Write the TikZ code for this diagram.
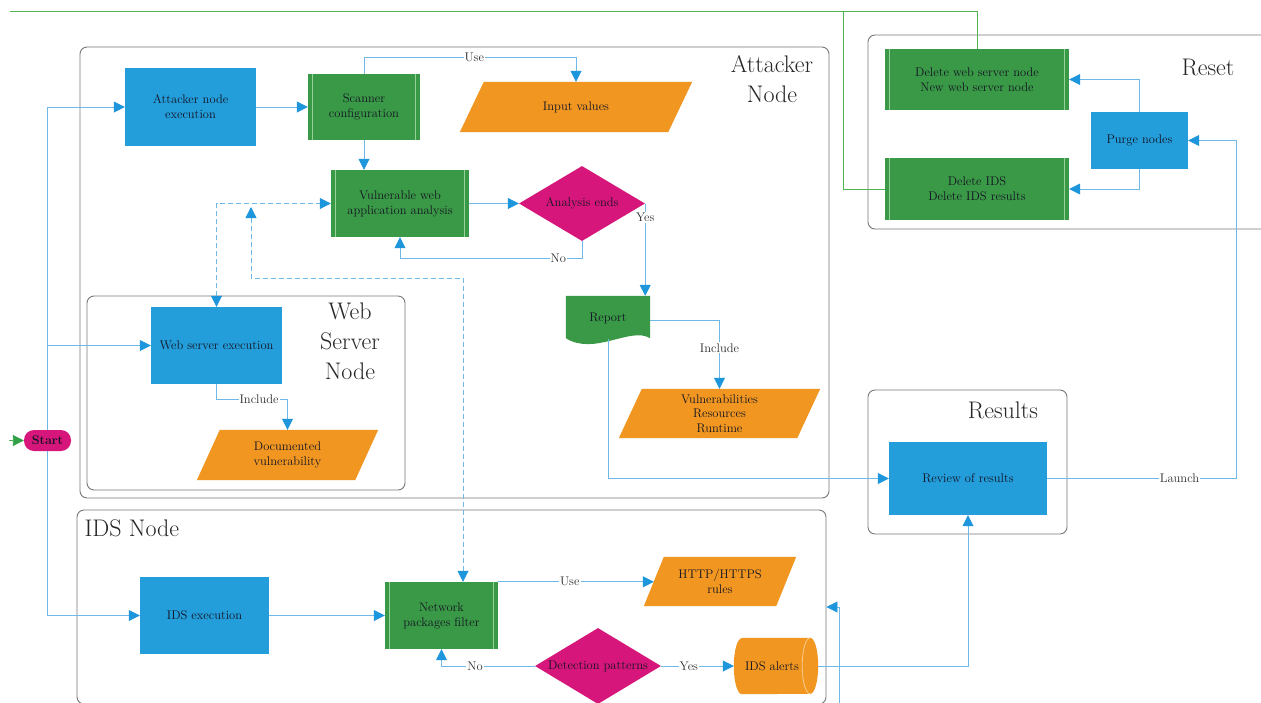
\documentclass[tikz,border=0pt]{standalone}
\usetikzlibrary{arrows.meta,shapes.geometric,calc,backgrounds}
\definecolor{boxblue}{RGB}{35,158,219}
\definecolor{boxgreen}{RGB}{58,153,70}
\definecolor{barg}{RGB}{150,210,150}
\definecolor{boxorange}{RGB}{241,151,33}
\definecolor{cylline}{RGB}{250,205,140}
\definecolor{boxmag}{RGB}{214,22,122}
\definecolor{lineblue}{RGB}{110,185,232}
\definecolor{arrowblue}{RGB}{30,150,220}
\definecolor{glinec}{RGB}{80,180,80}
\definecolor{arrowgreen}{RGB}{50,160,70}
\definecolor{framegray}{RGB}{120,120,120}
\definecolor{textdark}{RGB}{20,20,35}
\definecolor{labeltext}{RGB}{45,45,45}
\begin{document}
\begin{tikzpicture}[x=1pt,y=-1pt,
  conn/.style={draw=lineblue, line width=0.8pt},
  arr/.style={-{Triangle[length=11pt,width=11pt,color=arrowblue]}},
  bothend/.style={{Triangle[length=11pt,width=11pt,color=arrowblue]}-{Triangle[length=11pt,width=11pt,color=arrowblue]}},
  dashline/.style={dash pattern=on 5pt off 3pt},
  gline/.style={draw=glinec, line width=0.9pt},
  gbar/.style={draw=barg, line width=0.8pt},
  smallfont/.style={font=\fontsize{12.5}{15}\selectfont},
  bluebox/.style={rectangle, fill=boxblue, inner sep=2pt, align=center, text=textdark, smallfont},
  greenbox/.style={rectangle, fill=boxgreen, inner sep=2pt, align=center, text=textdark, smallfont},
  shapebox/.style={rectangle, inner sep=0pt, align=center, text=textdark, smallfont},
  decision/.style={diamond, fill=boxmag, inner sep=0pt, aspect=1.68, align=center, text=textdark, smallfont},
  container/.style={rectangle, draw=framegray, line width=0.9pt, rounded corners=7pt, inner sep=0pt},
  titletext/.style={font=\fontsize{24}{30}\selectfont, align=center, text=black!85},
  lbl/.style={fill=white, inner sep=1pt, text=labeltext, font=\fontsize{12.5}{14}\selectfont},
  startpill/.style={rectangle, rounded corners=10pt, fill=boxmag, minimum width=47pt, minimum height=21pt, inner sep=0pt, text=textdark, font=\fontsize{12.5}{14}\selectfont\bfseries}
]
\useasboundingbox (0,0) rectangle (1261,702);
\clip (0,0) rectangle (1261,702);

% containers
\node[container, minimum width=749pt, minimum height=451pt] (attc) at (454.5,272.5) {};
\node[container, minimum width=318pt, minimum height=194pt] (wsc) at (246,393) {};
\node[container, minimum width=749pt, minimum height=194pt] (idsc) at (451.5,607) {};
\node[container, minimum width=407pt, minimum height=194pt] (resetc) at (1071.5,132) {};
\node[container, minimum width=199pt, minimum height=144pt] (resc) at (967.5,462) {};

% titles
\node[titletext] (atttitle) at (772,79) {Attacker\\Node};
\node[titletext] (wstitle) at (350,341) {Web\\Server\\Node};
\node[titletext, anchor=west] (idstitle) at (81,528) {IDS Node};
\node[titletext] (resettitle) at (1208,67) {Reset};
\node[titletext] (restitle) at (1003,410) {Results};

% blue boxes
\node[bluebox, minimum width=131pt, minimum height=78pt] (exec) at (190.5,107) {Attacker node\\execution};
\node[bluebox, minimum width=131pt, minimum height=77pt] (wsexec) at (216.5,345.5) {Web server execution};
\node[bluebox, minimum width=129pt, minimum height=77pt] (idsexec) at (204.5,615.5) {IDS execution};
\node[bluebox, minimum width=97pt, minimum height=57pt] (purge) at (1139.5,140.5) {Purge nodes};
\node[bluebox, minimum width=158pt, minimum height=73pt] (review) at (968,478.5) {Review of results};

% green boxes
\node[greenbox, minimum width=112pt, minimum height=66pt] (scanner) at (364,107) {Scanner\\configuration};
\node[greenbox, minimum width=138pt, minimum height=67pt] (vuln) at (400,203.5) {Vulnerable web\\application analysis};
\node[greenbox, minimum width=113pt, minimum height=67pt] (netfilter) at (441.5,615.5) {Network\\packages filter};
\node[greenbox, minimum width=184pt, minimum height=61pt] (delws) at (977,79.5) {Delete web server node\\New web server node};
\node[greenbox, minimum width=184pt, minimum height=62pt] (delids) at (977,189) {Delete IDS\\Delete IDS results};
\foreach \n in {scanner,vuln,netfilter,delws,delids}{
  \draw[gbar] ([xshift=5pt]\n.north west) -- ([xshift=5pt]\n.south west)
              ([xshift=-5pt]\n.north east) -- ([xshift=-5pt]\n.south east);
}

% orange data shapes
\node[shapebox, minimum width=232pt, minimum height=50pt] (input) at (576,107) {Input values};
\node[shapebox, minimum width=201pt, minimum height=49pt, font=\fontsize{12.5}{14.5}\selectfont] (vulnlist) at (719.5,413.5) {Vulnerabilities\\Resources\\Runtime};
\node[shapebox, minimum width=181pt, minimum height=50pt] (docvuln) at (287.5,455) {Documented\\vulnerability};
\node[shapebox, minimum width=152pt, minimum height=49pt] (http) at (720,581.5) {HTTP/HTTPS\\rules};

% decisions
\node[decision, minimum width=126pt, minimum height=75pt] (analysis) at (582,203.5) {Analysis ends};
\node[decision, minimum width=126pt, minimum height=76pt] (detect) at (598,666) {Detection patterns};

% start
\node[startpill] (start) at (47.5,440.5) {Start};

% report and alerts
\node[shapebox, minimum width=84pt, minimum height=49pt] (report) at (608,320.5) {\raisebox{6pt}{Report}};
\node[shapebox, minimum width=84pt, minimum height=56pt] (alerts) at (776,666) {\hspace*{-8pt}IDS alerts};

\begin{scope}[on background layer]
  \fill[white] (0,0) rectangle (1261,702);
  \fill[boxorange] ([xshift=24pt]input.north west) -- (input.north east) -- ([xshift=-24pt]input.south east) -- (input.south west) -- cycle;
  \fill[boxorange] ([xshift=23pt]vulnlist.north west) -- (vulnlist.north east) -- ([xshift=-23pt]vulnlist.south east) -- (vulnlist.south west) -- cycle;
  \fill[boxorange] ([xshift=23pt]docvuln.north west) -- (docvuln.north east) -- ([xshift=-23pt]docvuln.south east) -- (docvuln.south west) -- cycle;
  \fill[boxorange] ([xshift=20pt]http.north west) -- (http.north east) -- ([xshift=-20pt]http.south east) -- (http.south west) -- cycle;
  \fill[boxgreen] (report.north west) -- (report.north east) -- ($(report.south east)+(0,-7)$)
     .. controls ($(report.south east)+(-20,-19)$) and ($(report.south west)+(29,11)$) .. ($(report.south west)+(0,-7)$) -- cycle;
  \fill[boxorange] ([xshift=8pt]alerts.north west) -- ([xshift=-8pt]alerts.north east)
     arc[start angle=90, end angle=-90, x radius=8pt, y radius=28pt]
     -- ([xshift=8pt]alerts.south west)
     arc[start angle=270, end angle=90, x radius=8pt, y radius=28pt] -- cycle;
\end{scope}
\draw[draw=cylline, line width=0.8pt] ([xshift=-8pt]alerts.north east) arc[start angle=90, end angle=270, x radius=8pt, y radius=28pt];

% free coordinates
\coordinate (d1) at (251,207);
\coordinate (d2) at (463,278);
\coordinate (b1) at (839,706);
\coordinate (g0) at (10,11);
\coordinate (g1) at (843,11);
\coordinate (g2) at (9,440.5);

% green lines
\draw[gline] (g0) -| (delws.north);
\draw[gline] (g1) |- (delids.west);
\draw[gline, -{Triangle[length=11pt,width=11pt,color=arrowgreen]}] (g2) -- (start.west);

% connectors
\draw[conn,arr] (start) |- (exec.west);
\draw[conn,arr] (start) |- (wsexec.west);
\draw[conn,arr] (start) |- (idsexec.west);
\draw[conn,arr] (exec) -- (scanner);
\draw[conn,arr] (scanner.north) -- ++(0,-16) -| node[lbl,pos=0.26]{Use} (input.north);
\draw[conn,arr] (scanner.south) -- (scanner.south |- vuln.north);
\draw[conn,arr] (vuln) -- (analysis);
\draw[conn,arr] (analysis.south) -- ++(0,17) coordinate (n1) -- node[lbl,pos=0.13]{No} (vuln.south |- n1) -- (vuln.south);
\draw[conn,arr] (analysis.east) -- node[lbl,pos=0.15]{Yes} (analysis.east |- report.north);
\draw[conn,arr] (report.east) -| node[lbl,pos=0.7]{Include} (vulnlist.north);
\draw[conn,arr] ([yshift=6pt]report.south) |- (review.west);
\draw[conn,arr] (wsexec.south) -- ++(0,15) -| node[lbl,pos=0.3]{Include} (docvuln.north);
\draw[conn,bothend,dashline] (wsexec.north) |- (vuln.west);
\draw[conn,bothend,dashline] (d1) |- (d2) -- (d2 |- netfilter.north);
\draw[conn,arr] (idsexec) -- (netfilter);
\draw[conn,arr] (netfilter.north east) -- node[lbl,pos=0.46]{Use} ([xshift=10pt]http.west |- netfilter.north east);
\draw[conn,arr] (detect.west) -| node[lbl,pos=0.32]{No} (netfilter.south);
\draw[conn,arr] (detect) -- node[lbl,pos=0.38]{Yes} (alerts);
\draw[conn,arr] (alerts.east) -| (review.south);
\draw[conn,arr] (b1) |- (idsc.east);
\draw[conn,arr] (review.east) -- node[lbl,pos=0.7]{Launch} ++(189,0) |- (purge.east);
\draw[conn,arr] (purge.north) |- (delws.east);
\draw[conn,arr] (purge.south) |- (delids.east);
\end{tikzpicture}
\end{document}
